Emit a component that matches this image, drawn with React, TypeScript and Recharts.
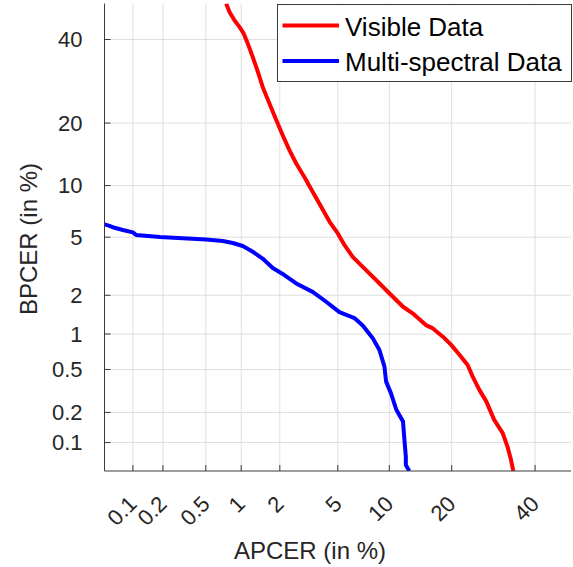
import React from 'react';
import { LineChart, Line, XAxis, YAxis, CartesianGrid, Legend } from 'recharts';

// ---- data (percent values) ----
const tickPercents = [0.1, 0.2, 0.5, 1, 2, 5, 10, 20, 40];
const tickLabels = ['0.1', '0.2', '0.5', '1', '2', '5', '10', '20', '40'];
const axisRangePercent = [0.05, 50];
const seriesNames = ['Visible Data', 'Multi-spectral Data'];

const visibleApcer = [0.75, 0.8, 0.88, 0.97, 1.05, 1.13, 1.24, 1.36, 1.48, 1.67, 1.88, 2.1, 2.35, 2.63, 3.0, 3.42, 3.9, 4.43, 5.0, 5.5, 6.18, 7.09, 8.46, 10.0, 11.8, 13.2, 15.3, 16.5, 18.3, 19.9, 21.6, 23.3, 24.4, 25.9, 27.5, 29.4, 31.5, 32.7, 33.6, 34.2];
const visibleBpcer = [50, 47.6, 45.3, 43.4, 41.6, 38.9, 35.3, 31.5, 27.9, 24.1, 20.6, 17.7, 15.1, 13.0, 11.1, 9.25, 7.62, 6.22, 5.28, 4.46, 3.73, 3.19, 2.58, 2.07, 1.64, 1.46, 1.18, 1.11, 0.951, 0.813, 0.669, 0.548, 0.432, 0.327, 0.255, 0.169, 0.125, 0.0909, 0.0659, 0.05];

const multiApcer = [0.05, 0.0567, 0.0642, 0.0786, 0.1, 0.108, 0.186, 0.309, 0.504, 0.702, 0.853, 1.03, 1.24, 1.48, 1.77, 2.16, 2.63, 3.42, 4.21, 5.12, 6.33, 7.09, 8.1, 8.83, 9.41, 9.61, 10.2, 10.9, 11.8, 12.0, 12.2, 12.2, 12.7];
const multiBpcer = [6.0, 5.88, 5.72, 5.54, 5.36, 5.16, 5.01, 4.92, 4.83, 4.73, 4.59, 4.39, 4.03, 3.63, 3.13, 2.8, 2.44, 2.12, 1.79, 1.49, 1.34, 1.17, 0.923, 0.737, 0.529, 0.389, 0.305, 0.212, 0.163, 0.107, 0.0714, 0.058, 0.05];

// ---- normal deviate (probit) scale transform ----
function probit(p: number): number {
  const a = [-3.969683028665376e1, 2.209460984245205e2, -2.759285104469687e2, 1.38357751867269e2, -3.066479806614716e1, 2.506628277459239];
  const b = [-5.447609879822406e1, 1.615858368580409e2, -1.556989798598866e2, 6.680131188771972e1, -1.328068155288572e1];
  const c = [-7.784894002430293e-3, -3.223964580411365e-1, -2.400758277161838, -2.549732539343734, 4.374664141464968, 2.938163982698783];
  const d = [7.784695709041462e-3, 3.224671290700398e-1, 2.445134137142996, 3.754408661907416];
  const plow = 0.02425;
  if (p < plow) {
    const q = Math.sqrt(-2 * Math.log(p));
    return (((((c[0] * q + c[1]) * q + c[2]) * q + c[3]) * q + c[4]) * q + c[5]) / ((((d[0] * q + d[1]) * q + d[2]) * q + d[3]) * q + 1);
  }
  if (p <= 1 - plow) {
    const q = p - 0.5;
    const r = q * q;
    return ((((((a[0] * r + a[1]) * r + a[2]) * r + a[3]) * r + a[4]) * r + a[5]) * q) / (((((b[0] * r + b[1]) * r + b[2]) * r + b[3]) * r + b[4]) * r + 1);
  }
  const q = Math.sqrt(-2 * Math.log(1 - p));
  return -(((((c[0] * q + c[1]) * q + c[2]) * q + c[3]) * q + c[4]) * q + c[5]) / ((((d[0] * q + d[1]) * q + d[2]) * q + d[3]) * q + 1);
}
const dev = (pct: number) => probit(pct / 100);

const toSeries = (xs: number[], ys: number[]) => xs.map((x, i) => ({ x: dev(x), y: dev(ys[i]) }));
const visibleData = toSeries(visibleApcer, visibleBpcer);
const multiData = toSeries(multiApcer, multiBpcer);

const tickVals = tickPercents.map(dev);
const domain: [number, number] = [dev(axisRangePercent[0]), dev(axisRangePercent[1])];
const labelFor = (v: number) => {
  let best = 0;
  tickVals.forEach((t, i) => { if (Math.abs(t - v) < Math.abs(tickVals[best] - v)) best = i; });
  return tickLabels[best];
};

const FONT = '"Liberation Sans", Arial, Helvetica, sans-serif';
const INK = '#262626';
const AXIS = '#3a3a3a';
const GRID = '#dfdfdf';

const XTick = (props: any) => {
  const { x, y, payload } = props;
  return (
    <text x={x} y={y} transform={`rotate(-45 ${x} ${y})`} textAnchor="end" dominantBaseline="central"
      fontSize={22} fill={INK} fontFamily={FONT}>
      {labelFor(payload.value)}
    </text>
  );
};

const LegendBox = (props: any) => {
  const payload = [...(props.payload || [])].sort(
    (p: any, q: any) => seriesNames.indexOf(p.value) - seriesNames.indexOf(q.value)
  );
  return (
    <svg width={295} height={78} style={{ display: 'block' }}>
      <rect x={0.5} y={0.5} width={294} height={77} fill="#ffffff" stroke={AXIS} strokeWidth={1} />
      {payload.map((entry: any, i: number) => (
        <g key={i}>
          <line x1={5.5} x2={62} y1={21.5 + i * 35.5} y2={21.5 + i * 35.5} stroke={entry.color} strokeWidth={4} />
          <text x={68} y={32.2 + i * 35} fontSize={26} fontFamily={FONT} fill="#000000">{entry.value}</text>
        </g>
      ))}
    </svg>
  );
};

export default function App() {
  return (
    <div style={{ position: 'absolute', left: 0, top: 0 }}>
      <LineChart width={573} height={567} margin={{ top: 3.5, right: 2, left: 24.5, bottom: 6 }}>
        <CartesianGrid stroke={GRID} strokeWidth={1} horizontalValues={tickVals} verticalValues={tickVals} />
        <XAxis
          type="number" dataKey="x" domain={domain} ticks={tickVals} allowDataOverflow interval={0}
          height={90} tickSize={-6} tickMargin={35} tick={<XTick />}
          axisLine={{ stroke: AXIS }} tickLine={{ stroke: AXIS }}
          label={{
            content: () => (
              <text x={310} y={559} textAnchor="middle" fontSize={24} fill={INK} fontFamily={FONT}>APCER (in %)</text>
            ),
          }}
        />
        <XAxis
          xAxisId="top" orientation="top" type="number" domain={domain} ticks={tickVals} allowDataOverflow interval={0}
          height={0} tickSize={-6} tick={false} axisLine={{ stroke: AXIS }} tickLine={{ stroke: AXIS }}
        />
        <YAxis
          type="number" domain={domain} ticks={tickVals} allowDataOverflow interval={0}
          width={80} tickSize={-6} tickMargin={28} tickFormatter={labelFor}
          tick={{ fontSize: 22, fill: INK, fontFamily: FONT }}
          axisLine={{ stroke: AXIS }} tickLine={{ stroke: AXIS }}
          label={{
            content: () => (
              <text x={36.5} y={239} transform="rotate(-90 36.5 239)" textAnchor="middle" fontSize={24} fill={INK} fontFamily={FONT}>BPCER (in %)</text>
            ),
          }}
        />
        <YAxis
          yAxisId="right" orientation="right" type="number" domain={domain} ticks={tickVals} allowDataOverflow interval={0}
          width={0} tickSize={-6} tick={false} axisLine={{ stroke: AXIS }} tickLine={{ stroke: AXIS }}
        />
        <Legend
          layout="vertical" align="center" verticalAlign="middle"
          wrapperStyle={{ position: 'absolute', left: 277, top: 3.5, width: 295, height: 78 }}
          content={<LegendBox />}
        />
        <Line data={visibleData} dataKey="y" name={seriesNames[0]} type="linear" stroke="#ff0000" strokeWidth={4}
          dot={false} activeDot={false} isAnimationActive={false} strokeLinejoin="round" />
        <Line data={multiData} dataKey="y" name={seriesNames[1]} type="linear" stroke="#0000ff" strokeWidth={4}
          dot={false} activeDot={false} isAnimationActive={false} strokeLinejoin="round" />
      </LineChart>
    </div>
  );
}
